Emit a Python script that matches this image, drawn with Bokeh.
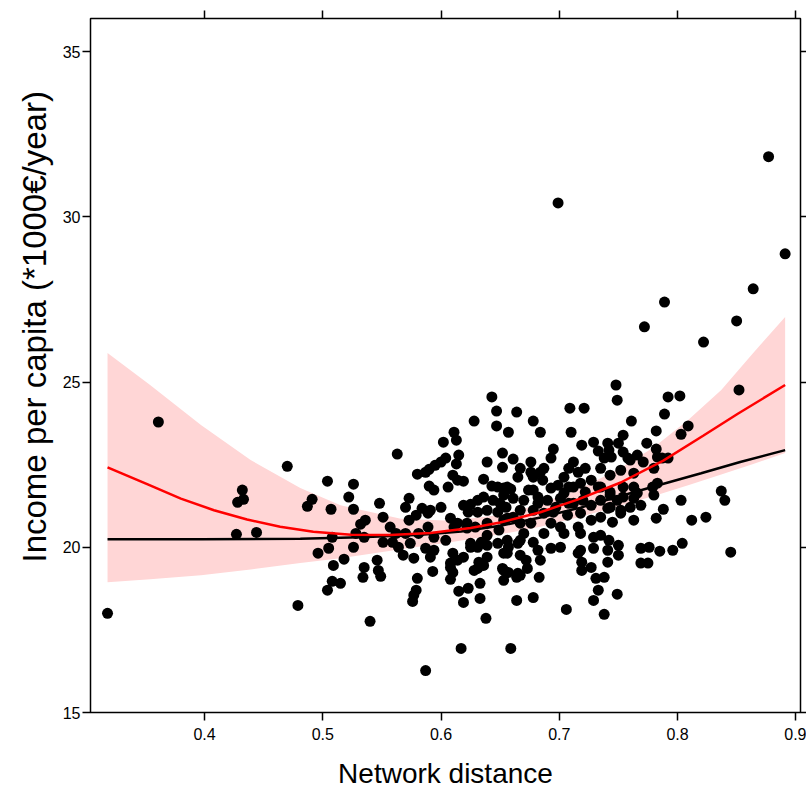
from bokeh.plotting import figure
from bokeh.models import LinearAxis, Range1d, FixedTicker, Title
from bokeh.embed import file_html
from bokeh.resources import INLINE

# ---- data ----
pts = [
 (0.318,18.00),(0.361,23.79),(0.427,20.39),(0.444,20.45),(0.432,21.73),(0.428,21.36),(0.433,21.45),(0.470,22.45),
 (0.504,22.00),(0.491,21.45),(0.487,21.24),(0.507,21.15),(0.479,18.24),(0.505,19.97),(0.496,19.82),(0.509,19.45),
 (0.508,18.97),(0.515,18.91),(0.504,18.70),
 (0.643,24.55),(0.647,24.12),(0.628,23.82),(0.647,23.67),(0.611,23.48),(0.613,23.24),(0.602,23.18),(0.657,23.48),
 (0.563,22.82),(0.615,22.79),(0.604,22.70),(0.600,22.58),(0.595,22.48),(0.590,22.36),(0.587,22.27),(0.613,22.52),
 (0.580,22.21),(0.639,22.58),(0.652,22.85),(0.652,22.42),(0.610,22.18),(0.614,22.03),(0.619,22.00),(0.636,22.06),
 (0.590,21.85),(0.594,21.73),(0.606,21.82),(0.643,21.85),(0.648,21.82),(0.653,21.79),(0.526,21.91),(0.522,21.52),
 (0.526,21.15),(0.548,21.33),(0.573,21.48),(0.570,21.21),(0.584,21.18),(0.591,21.12),(0.600,21.21),(0.579,20.97),
 (0.589,21.03),(0.573,20.82),(0.551,20.91),(0.536,20.82),(0.532,20.70),(0.557,20.61),(0.619,21.27),(0.625,21.30),
 (0.631,21.42),(0.636,21.52),(0.644,21.42),(0.650,21.33),(0.623,21.06),(0.631,21.06),(0.639,21.12),(0.648,21.06),
 (0.655,21.21),(0.608,20.88),(0.614,20.73),(0.622,20.73),(0.629,20.61),(0.639,20.73),(0.653,20.82),(0.528,20.42),
 (0.535,20.30),(0.508,20.30),(0.562,20.42),(0.570,20.42),(0.581,20.42),(0.589,20.61),(0.559,20.15),(0.564,20.00),
 (0.574,20.12),(0.551,20.15),(0.526,20.00),(0.587,19.97),(0.594,19.91),(0.604,20.21),(0.625,20.12),(0.631,20.00),
 (0.639,20.06),(0.648,20.12),(0.653,19.82),(0.568,19.76),(0.577,19.67),(0.591,19.70),(0.610,19.82),(0.614,19.61),
 (0.619,19.70),(0.632,19.55),(0.639,19.70),(0.518,19.64),(0.546,19.61),(0.535,19.39),(0.547,19.30),(0.534,19.09),
 (0.549,19.12),(0.593,19.27),(0.608,19.39),(0.631,19.36),(0.636,19.45),(0.652,19.36),(0.580,19.06),(0.608,19.03),
 (0.615,18.67),(0.623,18.76),(0.633,18.91),(0.653,19.00),(0.579,18.70),(0.577,18.55),(0.576,18.36),(0.619,18.33),
 (0.633,18.45),(0.540,17.76),(0.638,17.85),(0.617,16.94),(0.659,16.94),(0.587,16.27),
 (0.661,22.67),(0.667,22.39),(0.659,21.76),(0.665,22.12),(0.667,21.12),(0.664,24.09),
 (0.594,20.30),(0.611,20.61),(0.622,20.58),(0.639,20.36),(0.649,20.52),(0.661,20.91),(0.667,20.73),(0.670,20.42),
 (0.625,20.00),(0.634,20.15),(0.657,20.00),(0.665,20.12),(0.667,19.76),(0.672,19.61),(0.608,19.52),(0.610,19.24),
 (0.628,19.30),(0.657,19.24),(0.667,19.15),(0.664,19.09),(0.664,18.39),
 (0.748,24.91),(0.749,24.45),(0.709,24.21),(0.721,24.21),(0.761,23.82),(0.678,23.82),(0.684,23.48),(0.710,23.48),
 (0.754,23.39),(0.782,23.52),(0.719,23.09),(0.729,23.18),(0.741,23.15),(0.750,23.15),(0.774,23.15),(0.695,22.97),
 (0.733,22.91),(0.742,22.94),(0.754,22.88),(0.782,22.97),(0.693,22.70),(0.738,22.70),(0.758,22.70),(0.676,22.58),
 (0.687,22.39),(0.712,22.58),(0.722,22.39),(0.735,22.39),(0.771,22.58),(0.678,22.12),(0.686,22.03),(0.704,22.12),
 (0.716,22.27),(0.727,22.03),(0.743,22.18),(0.763,22.24),(0.780,22.39),(0.783,22.73),(0.656,21.82),(0.674,21.73),
 (0.693,21.79),(0.699,21.88),(0.708,21.82),(0.718,21.94),(0.735,21.82),(0.743,21.67),(0.754,21.82),(0.780,21.58),
 (0.769,21.27),(0.763,21.48),(0.749,21.42),(0.741,21.18),(0.752,21.03),(0.763,20.82),(0.745,20.76),(0.782,20.88),
 (0.653,21.58),(0.661,21.48),(0.670,21.42),(0.682,21.52),(0.690,21.42),(0.701,21.48),(0.708,21.33),(0.720,21.42),
 (0.727,21.27),(0.678,21.12),(0.687,21.03),(0.695,21.06),(0.707,20.97),(0.718,21.03),(0.727,20.82),(0.735,20.91),
 (0.656,20.88),(0.676,20.73),(0.693,20.73),(0.701,20.61),(0.716,20.61),(0.687,20.42),(0.704,20.42),(0.718,20.42),
 (0.729,20.30),(0.735,20.36),(0.742,20.21),(0.750,20.06),(0.769,19.97),(0.776,20.00),(0.785,19.88),(0.656,20.21),
 (0.667,20.21),(0.678,20.15),(0.656,19.82),(0.682,19.91),(0.693,19.97),(0.701,20.00),(0.718,19.91),(0.729,19.97),
 (0.741,19.91),(0.750,19.76),(0.769,19.52),(0.775,19.52),(0.684,19.61),(0.719,19.55),(0.727,19.39),(0.741,19.55),
 (0.653,19.30),(0.665,19.21),(0.673,19.36),(0.683,19.09),(0.731,19.06),(0.738,19.09),(0.733,18.70),(0.729,18.39),
 (0.749,18.58),(0.678,18.48),(0.706,18.12),(0.738,17.97),
 (0.676,22.27),(0.744,22.73),(0.760,22.64),(0.766,22.79),(0.752,22.33),(0.684,22.27),(0.708,22.39),(0.733,21.82),
 (0.763,21.82),(0.678,21.73),(0.704,21.64),(0.712,21.82),(0.722,21.67),(0.743,21.58),(0.754,21.52),(0.766,21.64),
 (0.682,21.33),(0.697,21.21),(0.712,21.33),(0.735,21.42),(0.743,21.21),(0.752,21.12),(0.760,21.21),
 (0.877,31.82),(0.891,28.88),(0.864,27.82),(0.789,27.42),(0.850,26.85),(0.772,26.67),(0.822,26.21),(0.852,24.76),
 (0.792,24.55),(0.802,24.58),(0.789,24.03),(0.809,23.67),(0.803,23.42),(0.787,22.70),(0.792,22.70),(0.779,21.82),
 (0.783,21.94),(0.788,21.15),(0.803,21.42),(0.812,20.82),(0.824,20.91),(0.837,21.70),(0.840,21.42),(0.845,19.85),
 (0.804,20.12),(0.796,19.91),(0.719,19.30),(0.716,19.82),(0.699,30.42),
]
distance = [a for a, b in pts]
income = [b for a, b in pts]

# quadratic fit (red)
fit_x = [0.318, 0.352, 0.380, 0.408, 0.436, 0.464, 0.492, 0.524, 0.557, 0.591, 0.625, 0.650, 0.684, 0.716, 0.752, 0.788, 0.822, 0.851, 0.891]
fit_y = [22.42, 21.90, 21.47, 21.12, 20.84, 20.62, 20.47, 20.38, 20.37, 20.43, 20.58, 20.75, 21.06, 21.45, 21.96, 22.62, 23.38, 24.04, 24.91]

# confidence band
band_x  = [0.318, 0.354, 0.397, 0.439, 0.481, 0.515, 0.566, 0.608, 0.650, 0.684, 0.718, 0.752, 0.780, 0.809, 0.837, 0.864, 0.891]
band_hi = [25.88, 24.91, 23.70, 22.64, 21.79, 21.27, 20.86, 20.80, 20.98, 21.30, 21.78, 22.40, 23.03, 23.85, 24.76, 25.88, 26.97]
band_lo = [18.94, 19.03, 19.15, 19.33, 19.52, 19.67, 19.94, 20.15, 20.39, 20.62, 20.92, 21.26, 21.55, 21.88, 22.20, 22.52, 22.85]

# smooth fit (black)
smooth_x = [0.318, 0.397, 0.481, 0.532, 0.583, 0.617, 0.650, 0.684, 0.718, 0.752, 0.786, 0.820, 0.853, 0.891]
smooth_y = [20.24, 20.24, 20.26, 20.30, 20.38, 20.48, 20.65, 20.90, 21.20, 21.55, 21.90, 22.24, 22.58, 22.94]

x_ticks = [0.4, 0.5, 0.6, 0.7, 0.8, 0.9]
y_ticks = [15, 20, 25, 30, 35]

FONT = "Liberation Sans"

p = figure(frame_width=710, frame_height=694,
           x_range=Range1d(0.3036, 0.904), y_range=Range1d(15, 36),
           output_backend="svg", toolbar_location=None,
           min_border_left=90, min_border_right=6, min_border_top=18, min_border_bottom=70)
p.background_fill_color = "white"
p.border_fill_color = "white"
p.outline_line_color = "black"
p.outline_line_width = 1.5
p.xgrid.visible = False
p.ygrid.visible = False

p.varea(x=band_x, y1=band_lo, y2=band_hi, fill_color="#FFD6D6", fill_alpha=1.0)
p.scatter(distance, income, size=11, fill_color="black", line_color="black", line_width=0)
p.line(smooth_x, smooth_y, line_color="black", line_width=2.5)
p.line(fit_x, fit_y, line_color="#FF0000", line_width=2.5)

def style(ax, ticks, labels=True):
    ax.ticker = FixedTicker(ticks=ticks)
    ax.axis_line_color = None
    ax.major_tick_line_color = "black"
    ax.major_tick_line_width = 1.5
    ax.major_tick_out = 8
    ax.major_tick_in = 0
    ax.minor_tick_line_color = None
    ax.major_label_text_font = FONT
    if labels:
        ax.major_label_text_color = "black"
        ax.major_label_text_font_size = "16px"
    else:
        ax.major_label_text_color = None
        ax.major_label_text_font_size = "1px"
        ax.major_label_standoff = 0

xa = p.xaxis[0]
style(xa, x_ticks)
xa.major_label_standoff = 7
xa.axis_label = "Network distance"
xa.axis_label_text_font = FONT
xa.axis_label_text_font_size = "28px"
xa.axis_label_text_font_style = "normal"
xa.axis_label_text_color = "black"
xa.axis_label_standoff = 15

ya = p.yaxis[0]
style(ya, y_ticks)
ya.major_label_standoff = 2

ylab = Title(text="Income per capita (*1000€/year)", align="left", offset=150,
             text_font=FONT, text_font_size="33px", text_font_style="normal",
             text_color="black", standoff=14)
p.add_layout(ylab, "left")

top = LinearAxis()
style(top, x_ticks, labels=False)
p.add_layout(top, "above")
right = LinearAxis()
style(right, y_ticks, labels=False)
right.major_tick_out = 6
p.add_layout(right, "right")

open("out.html", "w").write(file_html(p, INLINE))
